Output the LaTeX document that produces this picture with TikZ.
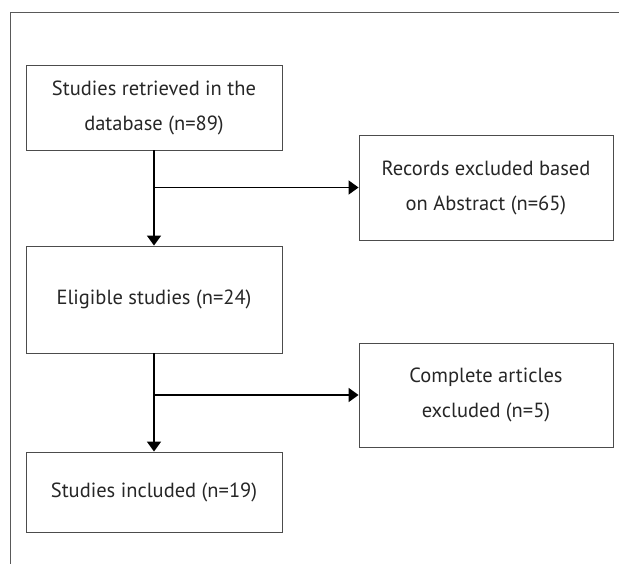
\documentclass[tikz,border=0pt]{standalone}
\usepackage{fontspec}
\setmainfont{PT Sans}
\usetikzlibrary{arrows.meta}
\tikzset{
  box/.style={draw=black!70, line width=0.9pt, minimum width=256pt,
    inner sep=0pt, align=center, text=black!85,
    font=\fontsize{20.5}{35}\selectfont},
  flow/.style={->, line width=1.6pt}
}
\begin{document}
\begin{tikzpicture}[x=1pt, y=-1pt, >={Triangle[length=10pt,width=14pt]}]
\useasboundingbox (0,0) rectangle (619,564);
% frame
\draw[black!65, line width=1pt] (619,13) -- (10,13) -- (10,564);

% main column
\node[box, minimum height=85pt]  (retrieved) at (154,107.5) {Studies retrieved in the\\database (n=89)};
\node[box, minimum height=107pt] (eligible)  at (154,299.5) {Eligible studies (n=24)};
\node[box, minimum height=80pt]  (included)  at (154,492)   {Studies included (n=19)};

% exclusions
\node[box, minimum width=254pt, minimum height=105pt] (abstract) at (486,187.5) {Records excluded based\\on Abstract (n=65)};
\node[box, minimum width=254pt, minimum height=104pt] (complete) at (486,395)   {Complete articles\\excluded (n=5)};

\draw[flow] (retrieved) -- (eligible);
\draw[flow] (retrieved.south |- abstract.west) -- (abstract.west);
\draw[flow] (eligible) -- (included);
\draw[flow] (eligible.south |- complete.west) -- (complete.west);

\end{tikzpicture}
\end{document}
